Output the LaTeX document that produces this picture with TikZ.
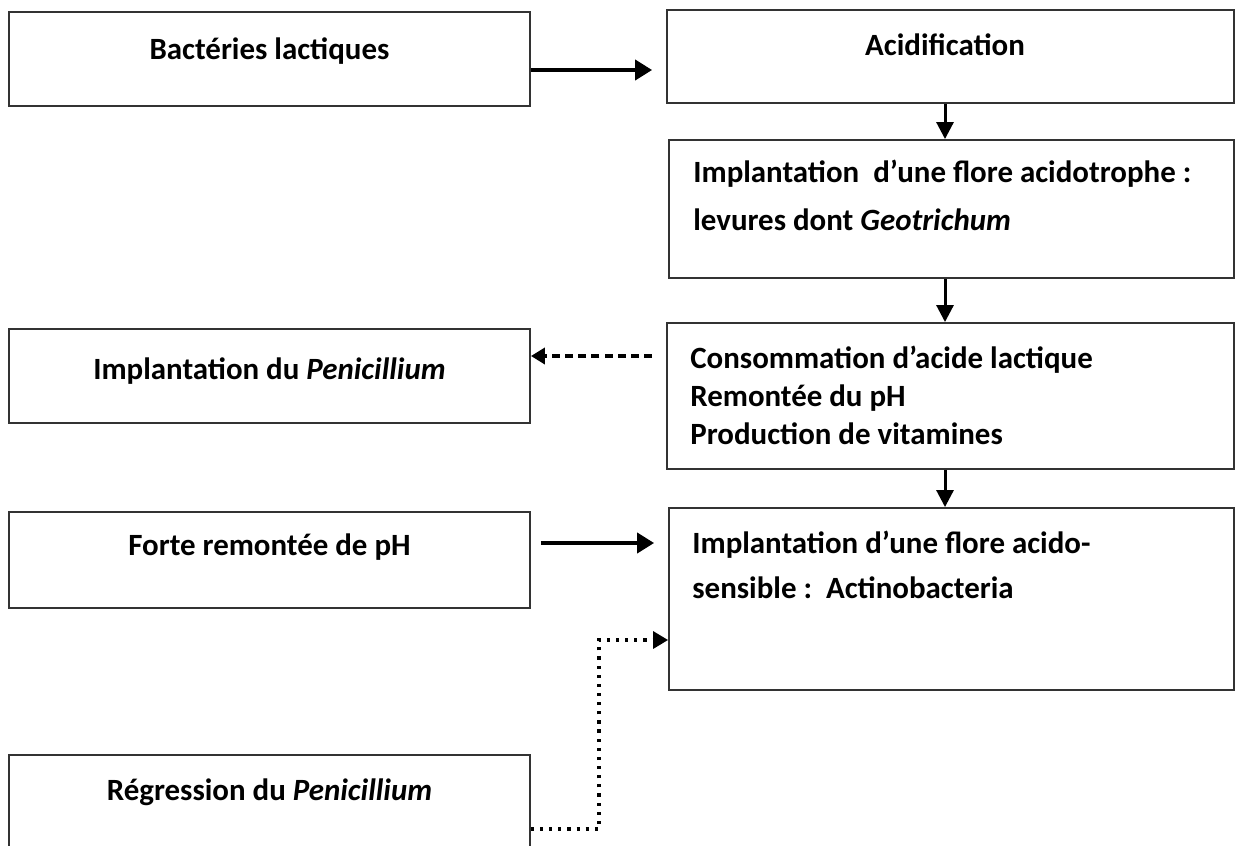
\documentclass[tikz,border=0pt]{standalone}
\usepackage{fontspec}
\setmainfont{Carlito}
\usetikzlibrary{arrows.meta}
\begin{document}
\begin{tikzpicture}[x=0.02cm,y=-0.02cm,
    box/.style={draw=black!80,line width=1.1pt,minimum width=10.42cm,inner sep=0},
    txt/.style={font=\fontsize{17.6}{21.5}\selectfont\bfseries,inner sep=0},
    flow/.style={line width=2.2pt,-{Triangle[length=0.34cm,width=0.4cm]}},
    down/.style={line width=1.7pt,-{Triangle[length=0.34cm,width=0.34cm]}}]
  \useasboundingbox (0,0) rectangle (1236,845);
  \clip (0,0) rectangle (1236,845);
  % left column
  \node[box,minimum height=1.88cm] (bact) at (269.5,59) {};
  \node[box,minimum height=1.88cm] (pen) at (269.5,376) {};
  \node[box,minimum height=1.92cm] (forte) at (269.5,560) {};
  \node[box,minimum height=2.3cm] (reg) at (269.5,812.5) {};
  % right column
  \node[box,minimum width=11.34cm,minimum height=1.86cm] (acid) at (950.5,56.5) {};
  \node[box,minimum width=11.3cm,minimum height=2.76cm] (acido) at (951.5,209) {};
  \node[box,minimum width=11.34cm,minimum height=2.92cm] (conso) at (950.5,396) {};
  \node[box,minimum width=11.3cm,minimum height=3.64cm] (sens) at (951.5,599) {};
  % texts (base = last line)
  \node[txt,anchor=base] (tbact) at (269.5,59) {Bactéries lactiques};
  \node[txt,anchor=base] (tacid) at (945,55) {Acidification};
  \node[txt,anchor=base west,align=left,font=\fontsize{17.6}{27}\selectfont\bfseries]
    (tacido) at (693,230) {Implantation\ \ d’une flore acidotrophe :\\levures dont \textit{Geotrichum}};
  \node[txt,anchor=base] (tpen) at (269.5,379) {Implantation du \textit{Penicillium}};
  \node[txt,anchor=base west,align=left] (tconso) at (690,444)
    {Consommation d’acide lactique\\Remontée du pH\\Production de vitamines};
  \node[txt,anchor=base] (tforte) at (269.5,555) {Forte remontée de pH};
  \node[txt,anchor=base west,align=left,font=\fontsize{17.6}{25.5}\selectfont\bfseries]
    (tsens) at (692,598) {Implantation d’une flore acido-\\sensible :\ \ Actinobacteria};
  \node[txt,anchor=base] (treg) at (269.5,800) {Régression du \textit{Penicillium}};
  % arrows
  \coordinate (col) at (945,0);
  \coordinate (bend) at (599,640);
  \draw[flow,shorten >=0.28cm] (bact.east |- 0,70) -- (acid.west |- 0,70);
  \draw[down] (acid.south -| col) -- (acido.north -| col);
  \draw[down] (acido.south -| col) -- (conso.north -| col);
  \draw[down] (conso.south -| col) -- (sens.north -| col);
  \draw[line width=2pt,dash pattern=on 4.5pt off 3pt,-{Triangle[length=0.28cm,width=0.32cm]},
    shorten <=0.28cm] (conso.west |- 0,356) -- (pen.east |- 0,356);
  \draw[flow,shorten <=0.2cm,shorten >=0.28cm] (forte.east |- 0,543) -- (sens.west |- 0,543);
  \draw[line width=1.8pt,dash pattern=on 1.8pt off 3.4pt,-{Triangle[length=0.3cm,width=0.34cm]}]
    (reg.east |- 0,829) -| (bend) -- (sens.west |- bend);
\end{tikzpicture}
\end{document}
